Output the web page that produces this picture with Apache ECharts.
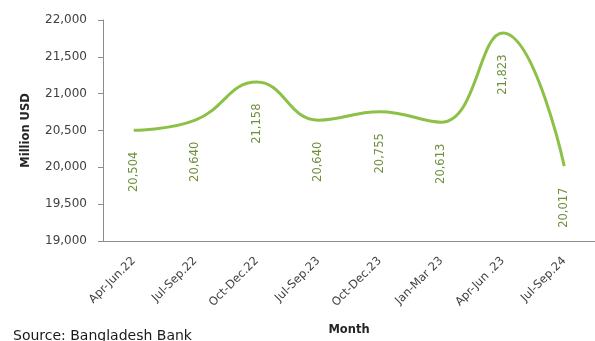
<!DOCTYPE html>
<html>
<head>
<meta charset="utf-8">
<script src="https://cdn.jsdelivr.net/npm/echarts@6/dist/echarts.min.js"></script>
<style>
  html, body { margin: 0; padding: 0; background: #ffffff; }
  #chart { width: 595px; height: 341px; }
</style>
</head>
<body>
<div id="chart"></div>
<script>
// Quarterly values, million USD
const quarters = ['Apr-Jun.22', 'Jul-Sep.22', 'Oct-Dec.22', 'Jul-Sep.23', 'Oct-Dec.23', 'Jan-Mar 23', 'Apr-Jun .23', 'Jul-Sep.24'];
const values = [20504, 20640, 21158, 20640, 20755, 20613, 21823, 20017];
const yTicks = [19000, 19500, 20000, 20500, 21000, 21500, 22000];

const fmt = v => v.toLocaleString('en-US');
const font = 'DejaVu Sans';

const chart = echarts.init(document.getElementById('chart'), null, { renderer: 'canvas' });
chart.setOption({
  backgroundColor: '#ffffff',
  animation: false,
  textStyle: { fontFamily: font },
  grid: { left: 103, top: 20, right: -2, bottom: 95, containLabel: false },
  xAxis: {
    type: 'category',
    data: quarters,
    boundaryGap: true,
    name: 'Month',
    nameLocation: 'middle',
    nameGap: 83,
    nameTextStyle: { fontFamily: font, fontSize: 11.5, fontWeight: 'bold', color: '#262626' },
    axisLine: { lineStyle: { color: '#8c8c8c', width: 1 } },
    axisTick: { show: false },
    axisLabel: { rotate: 45, fontSize: 11.5, color: '#404040', margin: 18, interval: 0 }
  },
  yAxis: {
    type: 'value',
    min: yTicks[0],
    max: yTicks[yTicks.length - 1],
    interval: 500,
    name: 'Million USD',
    nameLocation: 'middle',
    nameGap: 71,
    nameTextStyle: { fontFamily: font, fontSize: 11.5, fontWeight: 'bold', color: '#262626' },
    axisLine: { show: true, lineStyle: { color: '#8c8c8c', width: 1 } },
    axisTick: { show: true, inside: false, length: 5, lineStyle: { color: '#8c8c8c' } },
    splitLine: { show: false },
    axisLabel: { fontSize: 12, color: '#404040', margin: 16, formatter: v => fmt(v) }
  },
  series: [{
    type: 'line',
    data: values,
    smooth: 0.45,
    symbol: 'circle',
    symbolSize: 1,
    showSymbol: true,
    itemStyle: { color: 'rgba(0,0,0,0)', borderWidth: 0 },
    lineStyle: { color: '#8dc047', width: 3 },
    label: {
      show: true,
      position: 'bottom',
      distance: 21,
      rotate: 90,
      align: 'right',
      verticalAlign: 'middle',
      fontSize: 11.5,
      color: '#6f8f3e',
      formatter: p => fmt(p.value)
    },
    labelLayout: { hideOverlap: false }
  }],
  graphic: [{
    type: 'text',
    left: 13,
    top: 329,
    style: { text: 'Source: Bangladesh Bank', fontFamily: font, fontSize: 14, fill: '#1a1a1a' }
  }]
});
</script>
</body>
</html>
